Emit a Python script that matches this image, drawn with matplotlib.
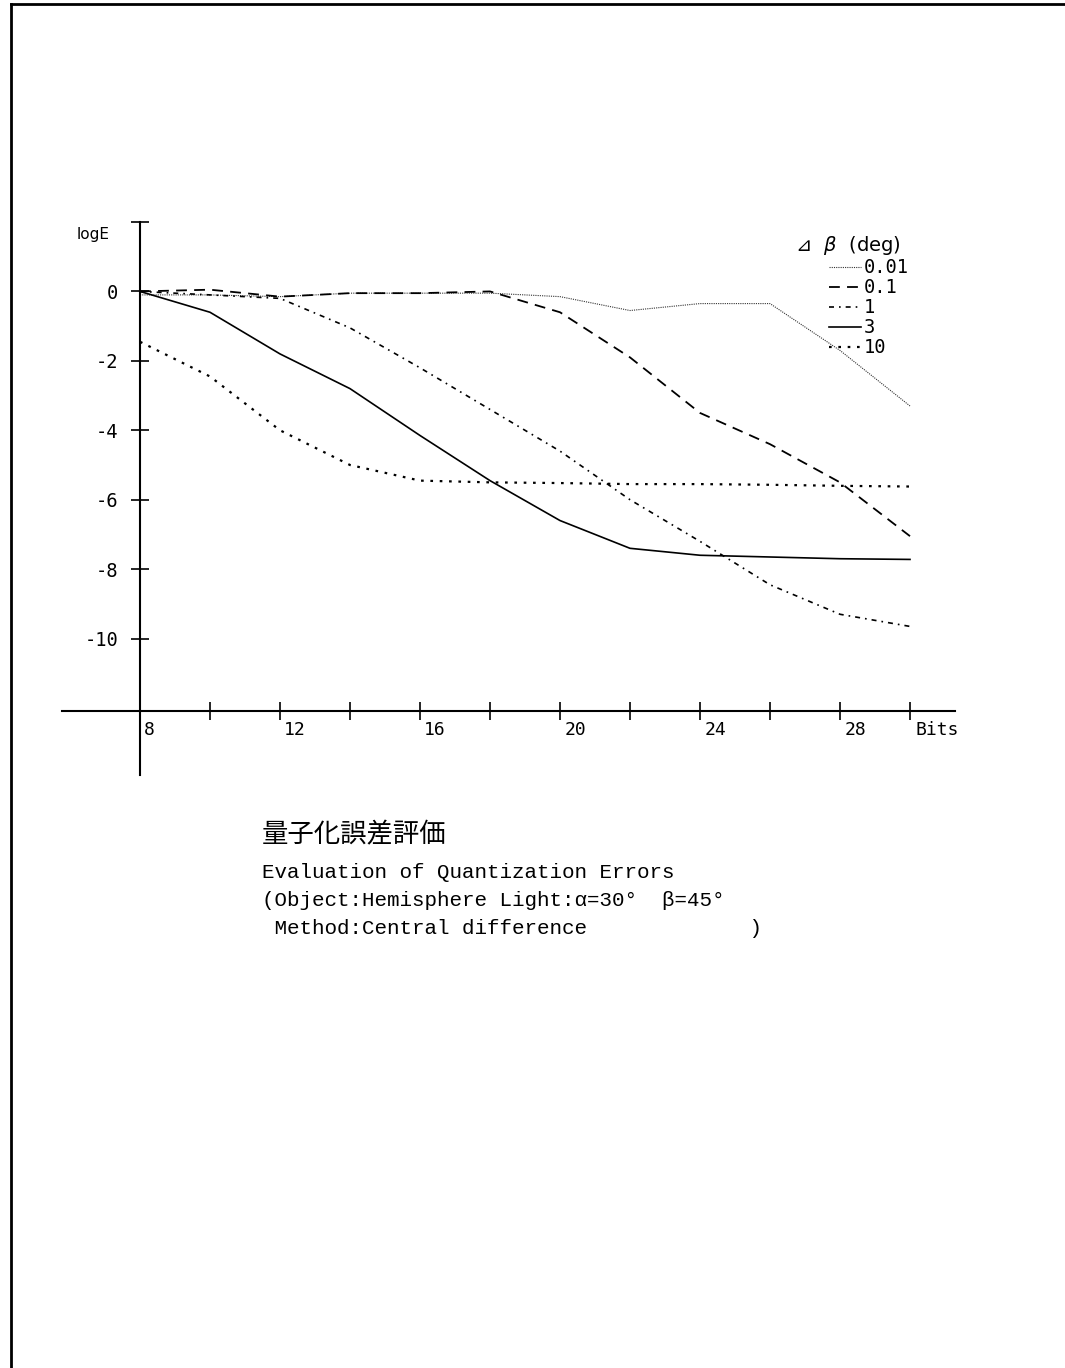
import matplotlib
matplotlib.use("Agg")
import matplotlib.pyplot as plt
import matplotlib.transforms as mtransforms
from matplotlib.lines import Line2D


bits = [8, 10, 12, 14, 16, 18, 20, 22, 24, 26, 28, 30]

err_001 = [-0.1, -0.1, -0.15, -0.05, -0.05, -0.05, -0.15, -0.55, -0.35, -0.35, -1.7, -3.3]
err_01 = [0.0, 0.05, -0.15, -0.05, -0.05, 0.0, -0.6, -1.9, -3.5, -4.4, -5.5, -7.05]
err_1 = [0.0, -0.1, -0.2, -1.05, -2.2, -3.4, -4.6, -6.0, -7.2, -8.45, -9.3, -9.65]
err_3 = [0.0, -0.6, -1.8, -2.8, -4.15, -5.45, -6.6, -7.4, -7.6, -7.65, -7.7, -7.72]
err_10 = [-1.45, -2.45, -4.0, -5.0, -5.45, -5.5, -5.52, -5.55, -5.55, -5.57, -5.6, -5.62]

series_labels = ["0.01", "0.1", "1", "3", "10"]

y_ticks = [2, 0, -2, -4, -6, -8, -10]
y_tick_labels = ["", "0", "-2", "-4", "-6", "-8", "-10"]
x_ticks = [8, 10, 12, 14, 16, 18, 20, 22, 24, 26, 28, 30]
x_tick_labels = ["8", "", "12", "", "16", "", "20", "", "24", "", "28", ""]

caption_jp = "量子化誤差評価"
caption_en = [
    "Evaluation of Quantization Errors",
    "(Object:Hemisphere Light:α=30°  β=45°",
    " Method:Central difference             )",
]

W, H = 1065, 1368
fig = plt.figure(figsize=(W / 100, H / 100), dpi=100)
fig.patch.set_facecolor("white")

ax = fig.add_axes([62 / W, 1 - 775 / H, (955 - 62) / W, (775 - 222) / H])
ax.set_xlim(8 - 78 / 35, 8 + 815 / 35)
ax.set_ylim(-13.93, 2.0)

ax.spines["top"].set_visible(False)
ax.spines["right"].set_visible(False)
ax.spines["left"].set_position(("data", 8))
ax.spines["bottom"].set_position(("data", -12.1))
for s in ["left", "bottom"]:
    ax.spines[s].set_linewidth(1.5)

mono = "DejaVu Sans Mono"

ax.set_yticks(y_ticks, y_tick_labels, fontfamily=mono, fontsize=13.5)
ax.set_xticks(x_ticks, x_tick_labels, fontfamily=mono, fontsize=13)
ax.tick_params(axis="both", direction="inout", length=13, width=1.2)
ax.tick_params(axis="y", pad=9)
ax.tick_params(axis="x", pad=0)

shift = mtransforms.ScaledTranslation(3 / 72, 0, fig.dpi_scale_trans)
for lab in ax.get_xticklabels():
    lab.set_horizontalalignment("left")
    lab.set_transform(lab.get_transform() + shift)

styles = [
    dict(linestyle=(0, (1, 1)), linewidth=0.8, color="#333333"),
    dict(linestyle=(0, (6, 4)), linewidth=1.3, color="black"),
    dict(linestyle=(0, (3, 3, 1, 3)), linewidth=1.2, color="black"),
    dict(linestyle="-", linewidth=1.2, color="black"),
    dict(linestyle=(0, (1.2, 3)), linewidth=1.6, color="black"),
]
all_series = [err_001, err_01, err_1, err_3, err_10]

handles = []
for vals, lab, st in zip(all_series, series_labels, styles):
    ln, = ax.plot(bits, vals, label=lab, **st)
    handles.append(ln)

ax.text(6.66, 1.63, "logE", fontsize=11, ha="center", va="center")
ax.text(30.77, -12.63, "Bits", fontsize=13, fontfamily=mono,
        ha="center", va="center")

leg = ax.legend(
    handles=handles,
    loc="upper right",
    bbox_to_anchor=(918 / W, 1 - 225 / H),
    bbox_transform=fig.transFigure,
    frameon=False,
    borderpad=0,
    handlelength=1.7,
    handletextpad=0.15,
    labelspacing=0.05,
    prop={"family": mono, "size": 13.5},
    title="⊿  $\\beta$  (deg)  ",
    title_fontproperties={"family": ["DejaVu Sans", "Noto Sans CJK JP"], "size": 14},
    alignment="right",
)

fig.text(262 / W, 1 - 835 / H, caption_jp, fontsize=19,
         family=["Noto Sans CJK JP", "DejaVu Sans"], va="center", ha="left")
for i, line in enumerate(caption_en):
    y_px = [872, 900, 928][i]
    fig.text(262 / W, 1 - y_px / H, line, fontsize=15,
             family=["Liberation Mono", "DejaVu Sans Mono"], va="center", ha="left")

# page frame from the scan
fig.add_artist(Line2D([11 / W, 1], [1 - 4 / H, 1 - 4 / H],
                      transform=fig.transFigure, color="black", linewidth=2))
fig.add_artist(Line2D([11 / W, 11 / W], [0, 1 - 4 / H],
                      transform=fig.transFigure, color="black", linewidth=2))

fig.savefig("out.png", dpi=100, facecolor="white")
